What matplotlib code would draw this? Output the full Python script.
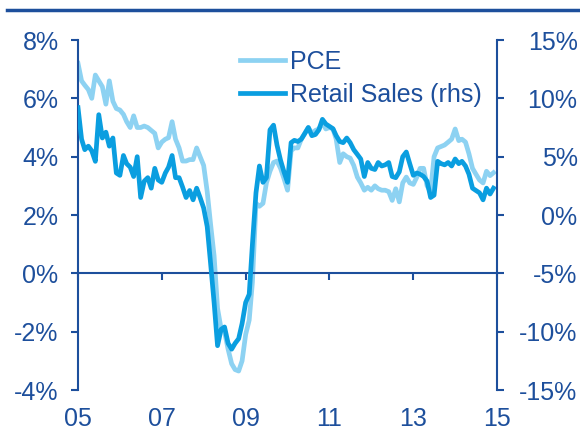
import matplotlib
matplotlib.use("Agg")
import matplotlib.pyplot as plt
import matplotlib.dates as mdates
from matplotlib.lines import Line2D
import pandas as pd

plt.rcParams['font.family'] = ['Liberation Sans', 'DejaVu Sans']

# monthly, Jan 2005 - Dec 2014 (yoy % change)
months = pd.date_range("2005-01-01", periods=120, freq="MS")

pce = [7.2, 6.6, 6.45, 6.3, 6.0, 6.8, 6.6, 6.4, 5.8, 6.6, 5.9, 5.65,
       5.6, 5.45, 5.2, 5.0, 5.4, 5.0, 5.0, 5.05, 5.0, 4.9, 4.8, 4.3,
       4.5, 4.6, 4.65, 5.2, 4.6, 4.3, 3.85, 3.85, 3.9, 3.9, 4.3, 4.0,
       3.7, 2.8, 1.7, 0.6, -1.2, -1.9, -2.0, -2.6, -3.1, -3.3, -3.35, -3.0,
       -2.1, -1.6, -0.3, 2.4, 2.3, 2.4, 3.1, 3.5, 3.8, 3.85, 3.6, 3.25,
       2.85, 4.2, 4.3, 4.3, 4.6, 4.8, 5.0, 4.8, 4.9, 4.95, 5.15, 4.95,
       5.0, 4.95, 4.6, 3.8, 4.1, 4.0, 3.95, 3.7, 3.3, 3.1, 2.85, 2.95,
       2.85, 3.0, 2.9, 2.85, 2.85, 2.8, 2.5, 2.9, 2.45, 3.1, 3.3, 3.1,
       3.05, 3.3, 3.6, 3.6, 3.0, 2.8, 4.0, 4.3, 4.35, 4.4, 4.5, 4.6,
       4.95, 4.55, 4.6, 4.5, 4.1, 3.6, 3.4, 3.2, 3.1, 3.5, 3.35, 3.45]

retail = [9.2, 6.5, 5.6, 5.9, 5.5, 4.6, 8.6, 6.6, 7.1, 5.9, 6.6, 3.6,
          3.4, 5.1, 4.4, 4.1, 3.3, 5.0, 1.5, 2.9, 3.2, 2.3, 4.0, 3.0,
          2.8, 3.6, 4.1, 5.1, 3.2, 3.2, 2.4, 1.5, 2.1, 1.3, 2.3, 1.5,
          0.6, -1.0, -4.1, -7.5, -11.2, -9.8, -9.6, -11.0, -11.5, -11.0, -10.6, -9.3,
          -7.5, -6.8, -2.5, 1.9, 4.2, 2.8, 3.2, 7.3, 7.7, 6.0, 4.7, 3.7,
          2.8, 6.2, 6.4, 6.3, 6.5, 7.0, 7.5, 6.8, 6.9, 7.3, 8.2, 7.8,
          7.6, 7.4, 6.8, 6.3, 6.2, 6.6, 6.2, 5.6, 5.2, 4.8, 3.3, 4.5,
          4.0, 3.9, 4.5, 4.2, 4.3, 4.5, 3.3, 3.2, 3.7, 5.0, 5.4, 4.4,
          3.4, 3.6, 3.5, 3.3, 2.9, 1.5, 1.7, 4.6, 4.4, 4.3, 4.5, 4.2,
          4.8, 4.4, 4.6, 4.2, 3.5, 2.3, 2.1, 1.9, 1.3, 2.3, 1.8, 2.3]

tick_years = [2005, 2007, 2009, 2011, 2013, 2015]
left_ticks = [-4, -2, 0, 2, 4, 6, 8]
right_ticks = [-15, -10, -5, 0, 5, 10, 15]

navy = "#1d4f9c"
light = "#8dd2f2"
dark = "#0a9ee0"

fig = plt.figure(figsize=(5.8, 4.33), dpi=100)
ax = fig.add_axes([0.1345, 0.0993, 0.7225, 0.8083])
ax2 = ax.twinx()

ax.plot(months, pce, color=light, lw=3.4, label="PCE", solid_joinstyle="round")
ax2.plot(months, retail, color=dark, lw=3.4, label="Retail Sales (rhs)", solid_joinstyle="round")

ax.set_ylim(-4, 8)
ax2.set_ylim(-15, 15)
ax.set_yticks(left_ticks)
ax.set_yticklabels([f"{v}%" for v in left_ticks])
ax2.set_yticks(right_ticks)
ax2.set_yticklabels([f"{v}%" for v in right_ticks])
ax.set_xlim(pd.Timestamp("2005-01-01"), pd.Timestamp("2015-01-01"))
ax.set_xticks([pd.Timestamp(f"{y}-01-01") for y in tick_years])
ax.xaxis.set_major_formatter(mdates.DateFormatter("%y"))

for a in (ax, ax2):
    for s in a.spines.values():
        s.set_color(navy)
        s.set_linewidth(1.5)
    a.spines['top'].set_visible(False)
    a.tick_params(colors=navy, labelsize=18, width=1.5, length=5)

ax.spines['right'].set_visible(False)
ax2.spines['left'].set_visible(False)
ax2.spines['bottom'].set_visible(False)
ax.spines['bottom'].set_position(('data', 0))
ax.tick_params(axis='y', pad=9)
ax.tick_params(axis='x', pad=91)
ax2.tick_params(axis='y', pad=53)
for lbl in ax2.get_yticklabels():
    lbl.set_horizontalalignment('right')

h1, l1 = ax.get_legend_handles_labels()
h2, l2 = ax2.get_legend_handles_labels()
ax2.legend(h1 + h2, l1 + l2, loc='upper left', bbox_to_anchor=(0.387, 0.972),
           frameon=False, fontsize=18, labelcolor=navy, handlelength=1.8,
           handletextpad=0.2, labelspacing=0.35, borderpad=0, borderaxespad=0)

# rule under the (cropped) title
fig.add_artist(Line2D([0.012, 1.0], [0.977, 0.977], transform=fig.transFigure,
                      color=navy, lw=2.5))

fig.savefig("out.png", dpi=100)
